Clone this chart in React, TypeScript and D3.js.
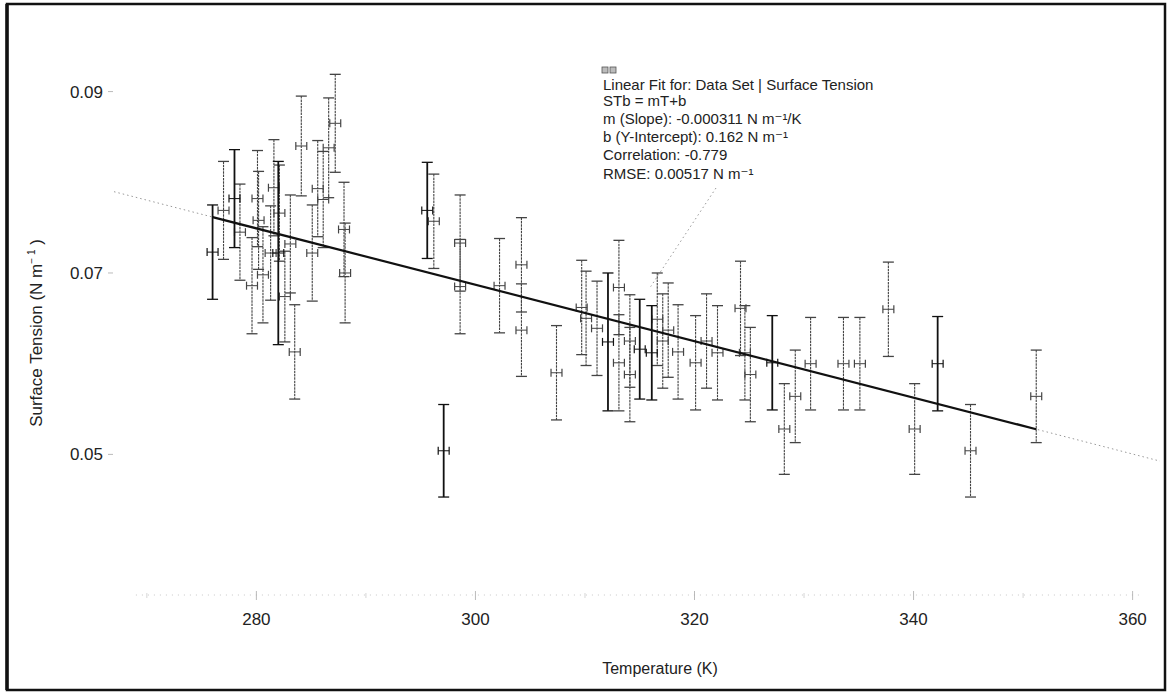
import React, { useEffect, useRef } from 'react';
import * as d3 from 'd3';

// [temperature (K), surface tension (N/m), +/- error (N/m)]
const lightRun: [number, number, number][] = [
  [277.0, 0.0769, 0.0054],
  [278.5, 0.0745, 0.0053],
  [279.6, 0.0686, 0.0053],
  [280.1, 0.0782, 0.0053],
  [280.2, 0.0758, 0.0054],
  [280.6, 0.0698, 0.0053],
  [281.3, 0.0722, 0.0052],
  [281.6, 0.0794, 0.0053],
  [282.1, 0.0766, 0.0053],
  [282.6, 0.0674, 0.0050],
  [283.1, 0.0732, 0.0054],
  [283.5, 0.0613, 0.0052],
  [284.1, 0.0840, 0.0055],
  [285.1, 0.0722, 0.0053],
  [285.6, 0.0793, 0.0053],
  [286.1, 0.0781, 0.0053],
  [286.6, 0.0838, 0.0055],
  [287.2, 0.0865, 0.0054],
  [288.0, 0.0748, 0.0052],
  [288.1, 0.0700, 0.0055],
  [296.2, 0.0757, 0.0052],
  [298.6, 0.0733, 0.0053],
  [298.6, 0.0685, 0.0052],
  [302.2, 0.0686, 0.0052],
  [304.2, 0.0709, 0.0052],
  [304.2, 0.0637, 0.0051],
  [307.4, 0.0590, 0.0052],
  [309.7, 0.0662, 0.0052],
  [310.1, 0.0650, 0.0052],
  [311.1, 0.0639, 0.0052],
  [313.1, 0.0684, 0.0052],
  [313.1, 0.0601, 0.0053],
  [314.1, 0.0625, 0.0051],
  [314.1, 0.0588, 0.0052],
  [316.6, 0.0649, 0.0051],
  [317.1, 0.0625, 0.0052],
  [317.6, 0.0637, 0.0052],
  [318.5, 0.0613, 0.0052],
  [320.1, 0.0601, 0.0052],
  [321.1, 0.0625, 0.0052],
  [322.1, 0.0612, 0.0052],
  [324.2, 0.0661, 0.0052],
  [324.6, 0.0612, 0.0052],
  [325.1, 0.0588, 0.0052],
  [328.2, 0.0528, 0.0050],
  [329.2, 0.0564, 0.0051],
  [330.6, 0.0600, 0.0051],
  [333.6, 0.0600, 0.0051],
  [335.1, 0.0600, 0.0051],
  [337.7, 0.0660, 0.0052],
  [340.1, 0.0528, 0.0050],
  [345.2, 0.0504, 0.0051],
  [351.2, 0.0564, 0.0051],
];

// runs that came out darker on the plot
const darkRun: [number, number, number][] = [
  [276.0, 0.0723, 0.0052],
  [278.0, 0.0782, 0.0054],
  [282.0, 0.0722, 0.0101],
  [295.6, 0.0769, 0.0053],
  [297.1, 0.0504, 0.0051],
  [312.1, 0.0624, 0.0076],
  [315.0, 0.0616, 0.0055],
  [316.1, 0.0612, 0.0052],
  [327.1, 0.0601, 0.0052],
  [342.2, 0.0600, 0.0052],
];

const tempError = 0.5;
const fitSlope = -0.000311;
const fitIntercept = 0.162;
const xMajorTicks = [280, 300, 320, 340, 360];
const xMinorTicks = [270, 290, 310, 330, 350];
const yTicks = [0.09, 0.07, 0.05];
const fitText = [
  'Linear Fit for: Data Set | Surface Tension',
  'STb = mT+b',
  'm (Slope): -0.000311 N m\u207B\u00B9/K',
  'b (Y-Intercept): 0.162 N m\u207B\u00B9',
  'Correlation: -0.779',
  'RMSE: 0.00517 N m\u207B\u00B9',
];

const W = 1172;
const H = 696;
const FONT = '"Liberation Sans", Arial, "DejaVu Sans", sans-serif';

export default function App() {
  const svgRef = useRef<SVGSVGElement>(null);

  useEffect(() => {
    if (!svgRef.current) return;
    const svg = d3.select(svgRef.current);
    svg.selectAll('*').remove();

    const x = d3.scaleLinear().domain([267, 362.5]).range([114, 1160]);
    const y = d3.scaleLinear().domain([0.0345, 0.098]).range([595, 19]);

    svg.append('rect').attr('width', W).attr('height', H).attr('fill', '#fff');

    // frame
    svg.append('rect')
      .attr('x', 7).attr('y', 4)
      .attr('width', 1158).attr('height', 686)
      .attr('fill', 'none')
      .attr('stroke', '#111')
      .attr('stroke-width', 2.5);
    svg.append('line')
      .attr('x1', 7).attr('x2', 7)
      .attr('y1', 4).attr('y2', 690)
      .attr('stroke', '#111')
      .attr('stroke-width', 3.5);

    // x axis (faint, dotted)
    svg.append('line')
      .attr('x1', x(269)).attr('x2', x(361))
      .attr('y1', y.range()[0]).attr('y2', y.range()[0])
      .attr('stroke', '#bbb')
      .attr('stroke-width', 0.8)
      .attr('stroke-dasharray', '1,5');

    svg.selectAll('line.xmaj')
      .data(xMajorTicks)
      .join('line')
      .attr('class', 'xmaj')
      .attr('x1', d => x(d)).attr('x2', d => x(d))
      .attr('y1', 591).attr('y2', 600)
      .attr('stroke', '#aaa')
      .attr('stroke-width', 0.8);

    svg.selectAll('line.xmin')
      .data(xMinorTicks)
      .join('line')
      .attr('class', 'xmin')
      .attr('x1', d => x(d)).attr('x2', d => x(d))
      .attr('y1', 593).attr('y2', 598)
      .attr('stroke', '#ccc')
      .attr('stroke-width', 0.8);

    svg.selectAll('text.xlab')
      .data(xMajorTicks)
      .join('text')
      .attr('class', 'xlab')
      .attr('x', d => x(d))
      .attr('y', 625)
      .attr('text-anchor', 'middle')
      .style('font-family', FONT)
      .style('font-size', '17px')
      .attr('fill', '#222')
      .text(d => d);

    // y ticks
    svg.selectAll('text.ylab')
      .data(yTicks)
      .join('text')
      .attr('class', 'ylab')
      .attr('x', 103)
      .attr('y', d => y(d) + 6)
      .attr('text-anchor', 'end')
      .style('font-family', FONT)
      .style('font-size', '17px')
      .attr('fill', '#222')
      .text(d => d.toFixed(2));

    svg.selectAll('line.ytick')
      .data(yTicks)
      .join('line')
      .attr('class', 'ytick')
      .attr('x1', 108).attr('x2', 113)
      .attr('y1', d => y(d)).attr('y2', d => y(d))
      .attr('stroke', '#aaa')
      .attr('stroke-width', 0.8);

    // axis titles
    svg.append('text')
      .attr('x', 660)
      .attr('y', 674)
      .attr('text-anchor', 'middle')
      .style('font-family', FONT)
      .style('font-size', '16px')
      .attr('fill', '#222')
      .text('Temperature (K)');

    const yTitle = svg.append('text')
      .attr('transform', 'translate(42,333) rotate(-90)')
      .attr('text-anchor', 'middle')
      .style('font-family', FONT)
      .style('font-size', '17px')
      .attr('fill', '#222');
    yTitle.append('tspan').text('Surface Tension  (N m');
    yTitle.append('tspan').attr('dy', -7).style('font-size', '10px').text('\u2212 1');
    yTitle.append('tspan').attr('dy', 7).text(' )');

    // fit line: dotted over the full axis, solid over the data
    const allPts = [...lightRun, ...darkRun];
    const tMin = d3.min(allPts, d => d[0]) as number;
    const tMax = d3.max(allPts, d => d[0]) as number;
    const fit = (t: number) => fitSlope * t + fitIntercept;
    const [d0, d1] = x.domain();

    svg.append('line')
      .attr('x1', x(d0)).attr('y1', y(fit(d0)))
      .attr('x2', x(d1)).attr('y2', y(fit(d1)))
      .attr('stroke', '#999')
      .attr('stroke-width', 1)
      .attr('stroke-dasharray', '1.5,3');

    // error bars
    const drawRun = (data: [number, number, number][], cls: string, color: string, width: number, dash: string | null) => {
      const g = svg.append('g').attr('class', cls);
      const pts = g.selectAll('g')
        .data(data)
        .join('g');

      const capW = 5.5;

      // vertical bar
      pts.append('line')
        .attr('x1', d => x(d[0])).attr('x2', d => x(d[0]))
        .attr('y1', d => y(d[1] + d[2])).attr('y2', d => y(d[1] - d[2]))
        .attr('stroke', color)
        .attr('stroke-width', width)
        .attr('stroke-dasharray', dash);
      // caps
      pts.append('line')
        .attr('x1', d => x(d[0]) - capW).attr('x2', d => x(d[0]) + capW)
        .attr('y1', d => y(d[1] + d[2])).attr('y2', d => y(d[1] + d[2]))
        .attr('stroke', color).attr('stroke-width', 1.3);
      pts.append('line')
        .attr('x1', d => x(d[0]) - capW).attr('x2', d => x(d[0]) + capW)
        .attr('y1', d => y(d[1] - d[2])).attr('y2', d => y(d[1] - d[2]))
        .attr('stroke', color).attr('stroke-width', 1.3);
      // horizontal (temperature) bar
      pts.append('line')
        .attr('x1', d => x(d[0] - tempError)).attr('x2', d => x(d[0] + tempError))
        .attr('y1', d => y(d[1])).attr('y2', d => y(d[1]))
        .attr('stroke', color).attr('stroke-width', 1);
      pts.append('line')
        .attr('x1', d => x(d[0] - tempError)).attr('x2', d => x(d[0] - tempError))
        .attr('y1', d => y(d[1]) - 4).attr('y2', d => y(d[1]) + 4)
        .attr('stroke', color).attr('stroke-width', 1.2);
      pts.append('line')
        .attr('x1', d => x(d[0] + tempError)).attr('x2', d => x(d[0] + tempError))
        .attr('y1', d => y(d[1]) - 4).attr('y2', d => y(d[1]) + 4)
        .attr('stroke', color).attr('stroke-width', 1.2);
    };

    drawRun(lightRun, 'light', '#444', 1.1, '2.5,0.8');
    drawRun(darkRun, 'dark', '#111', 1.8, null);

    svg.append('line')
      .attr('x1', x(tMin)).attr('y1', y(fit(tMin)))
      .attr('x2', x(tMax)).attr('y2', y(fit(tMax)))
      .attr('stroke', '#111')
      .attr('stroke-width', 2.2);

    // fit annotation
    svg.append('line')
      .attr('x1', 716).attr('y1', 188)
      .attr('x2', x(316)).attr('y2', y(0.0685))
      .attr('stroke', '#999')
      .attr('stroke-width', 1)
      .attr('stroke-dasharray', '1.5,3');

    const icon = svg.append('g').attr('transform', 'translate(602,67)');
    [0, 8].forEach(dx => {
      icon.append('rect')
        .attr('x', dx).attr('y', 0)
        .attr('width', 6).attr('height', 6)
        .attr('fill', '#bbb')
        .attr('stroke', '#555')
        .attr('stroke-width', 0.8);
    });

    const lineY = [90, 106, 124, 142, 160, 179];
    svg.selectAll('text.fit')
      .data(fitText)
      .join('text')
      .attr('class', 'fit')
      .attr('x', 603)
      .attr('y', (_, i) => lineY[i])
      .style('font-family', FONT)
      .style('font-size', '15px')
      .attr('fill', '#222')
      .text(d => d);
  }, []);

  return (
    <svg
      ref={svgRef}
      width={W}
      height={H}
      viewBox={`0 0 ${W} ${H}`}
      style={{ position: 'absolute', left: 0, top: 0, display: 'block' }}
    />
  );
}
